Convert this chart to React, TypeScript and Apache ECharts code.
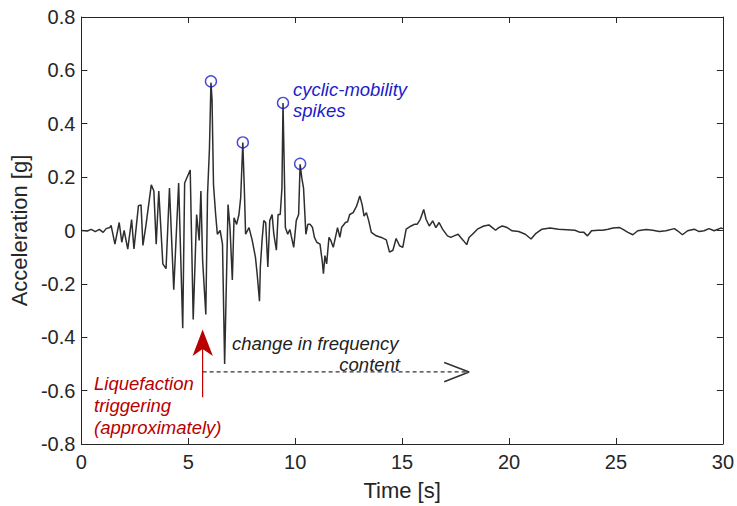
import React, { useEffect, useRef } from "react";
import * as echarts from "echarts";

// Acceleration time history [time (s), acceleration (g)]
const accelTrace: [number, number][] = [
  [0, 0], [0.28, -0.002], [0.46, 0.004], [0.65, -0.004], [0.84, 0.004], [1.02, -0.007],
  [1.16, 0.007], [1.33, 0.011], [1.39, 0.019], [1.57, -0.051], [1.77, 0.03], [1.89, -0.044],
  [2.0, 0], [2.17, -0.07], [2.35, 0.041], [2.46, -0.069], [2.67, 0.093], [2.79, 0.096],
  [2.88, -0.056], [3.02, 0.019], [3.27, 0.171], [3.39, 0.148], [3.5, -0.051], [3.62, 0.148],
  [3.81, -0.125], [3.96, -0.143], [4.12, 0.159], [4.32, -0.222], [4.55, 0.178], [4.74, -0.366],
  [4.83, 0.178], [5.09, 0.227], [5.23, -0.333], [5.39, 0.06], [5.51, -0.037], [5.59, 0.148],
  [5.67, -0.111], [5.82, -0.315], [5.9, 0.134], [5.99, 0.307], [6.06, 0.554], [6.11, 0.493],
  [6.18, 0.171], [6.28, 0.06], [6.36, -0.014], [6.49, 0], [6.6, -0.051], [6.7, -0.5],
  [6.86, 0.097], [6.95, 0.011], [7.06, -0.185], [7.14, 0.048], [7.26, 0.023], [7.37, 0.06],
  [7.45, 0.122], [7.55, 0.33], [7.62, 0.159], [7.68, -0.014], [7.84, 0.011], [7.99, -0.037],
  [8.14, -0.1], [8.22, -0.162], [8.33, -0.265], [8.37, -0.137], [8.45, -0.037], [8.53, 0.037],
  [8.62, 0.03], [8.72, -0.137], [8.81, 0.037], [8.92, 0.06], [9.0, -0.014], [9.12, -0.074],
  [9.2, 0.06], [9.3, 0.06], [9.38, 0.159], [9.43, 0.478], [9.48, 0.27], [9.54, 0.011],
  [9.65, -0.014], [9.75, 0.004], [9.93, -0.063], [10.05, 0.037], [10.16, 0.06], [10.23, 0.248],
  [10.31, 0.196], [10.39, 0.159], [10.5, -0.014], [10.59, 0.023], [10.7, 0.023], [10.81, 0.011],
  [10.9, -0.026], [11.01, -0.044], [11.16, -0.051], [11.27, -0.119], [11.32, -0.162], [11.39, -0.094],
  [11.47, -0.125], [11.58, -0.026], [11.67, -0.038], [11.78, -0.063], [11.98, 0.011], [12.09, -0.026],
  [12.17, 0.011], [12.35, 0.03], [12.45, 0.033], [12.55, 0.06], [12.71, 0.067], [12.87, 0.091],
  [13.02, 0.129], [13.13, 0.097], [13.22, 0.054], [13.33, 0.067], [13.44, 0.036], [13.56, -0.007],
  [13.79, -0.02], [14.03, -0.026], [14.26, -0.035], [14.41, -0.081], [14.57, -0.074], [14.72, -0.03],
  [14.88, -0.057], [15.03, -0.063], [15.19, 0.005], [15.42, 0.017], [15.57, 0.023], [15.7, 0.023],
  [15.85, 0.042], [16.01, 0.079], [16.12, 0.042], [16.27, 0.017], [16.43, 0.036], [16.58, 0.011],
  [16.73, 0.03], [16.89, 0.005], [17.12, -0.02], [17.28, -0.026], [17.43, -0.02], [17.62, -0.014],
  [17.74, -0.026], [17.87, -0.038], [18.02, -0.053], [18.13, -0.026], [18.29, -0.014], [18.52, 0.005],
  [18.82, 0.017], [19.06, 0.021], [19.22, 0.011], [19.37, 0.001], [19.52, 0.011], [19.68, 0.017],
  [19.91, 0.011], [20.14, -0.001], [20.45, -0.004], [20.76, -0.014], [21.03, -0.032], [21.23, -0.013],
  [21.54, 0.005], [21.92, 0.009], [22.31, 0.005], [22.7, 0.003], [23.08, 0.001], [23.32, -0.007],
  [23.5, -0.007], [23.67, -0.02], [23.86, -0.001], [24.17, 0.001], [24.38, 0.001], [24.63, 0.005],
  [24.86, 0.009], [25.17, 0.011], [25.31, 0.005], [25.56, -0.007], [25.79, -0.016], [26.02, -0.001],
  [26.41, 0.004], [26.72, 0.001], [27.03, -0.004], [27.34, -0.001], [27.73, 0.007], [27.88, -0.001],
  [28.11, -0.016], [28.35, -0.001], [28.66, 0.005], [28.89, -0.004], [29.12, -0.001], [29.35, 0.007],
  [29.59, -0.001], [29.9, 0.009], [30, 0.007],
];

// Cyclic-mobility spikes (circled peaks)
const spikePeaks: [number, number][] = [
  [6.06, 0.559], [7.55, 0.33], [9.43, 0.478], [10.23, 0.25],
];

// Axis ranges / ticks
const xRange = { min: 0, max: 30, interval: 5 };
const yRange = { min: -0.8, max: 0.8, interval: 0.2 };

// Annotation arrows (data coordinates)
const triggerShaft: [number, number][] = [[5.67, -0.625], [5.67, -0.44]];
const triggerHead: [number, number][] = [[5.67, -0.371], [5.2, -0.47], [5.67, -0.444], [6.15, -0.47]];
const freqShaft: [number, number][] = [[5.67, -0.53], [18.13, -0.53]];
const freqHead: [number, number][] = [[16.97, -0.495], [18.13, -0.53], [16.97, -0.567]];

const FONT = '"Liberation Sans", Arial, Helvetica, sans-serif';
const AX = "#262626";
const ANNOT = `italic 18.5px ${FONT}`;

export default function App() {
  const ref = useRef<HTMLDivElement>(null);

  useEffect(() => {
    if (!ref.current) return;
    const chart = echarts.init(ref.current, undefined, { renderer: "svg" });

    const baseAxisLine = { show: true, onZero: false, lineStyle: { color: AX, width: 1 } };
    const tick = { show: true, inside: true, length: 6, lineStyle: { color: AX, width: 1 } };

    chart.setOption({
      animation: false,
      backgroundColor: "#ffffff",
      grid: { left: 78, right: 13, top: 17, bottom: 57, containLabel: false },
      xAxis: [
        {
          type: "value", ...xRange, position: "bottom",
          axisLine: baseAxisLine, axisTick: tick, splitLine: { show: false },
          axisLabel: { color: AX, fontSize: 20, fontFamily: FONT, margin: 8 },
          name: "Time [s]", nameLocation: "middle", nameGap: 35,
          nameTextStyle: { color: AX, fontSize: 22, fontFamily: FONT },
        },
        {
          type: "value", ...xRange, position: "top",
          axisLine: baseAxisLine, axisTick: tick, splitLine: { show: false },
          axisLabel: { show: false },
        },
      ],
      yAxis: [
        {
          type: "value", ...yRange, position: "left",
          axisLine: baseAxisLine, axisTick: tick, splitLine: { show: false },
          axisLabel: {
            color: AX, fontSize: 20, fontFamily: FONT, margin: 6,
            formatter: (v: number) => (Math.abs(v) < 1e-9 ? "0" : v.toFixed(1)),
          },
          name: "Acceleration [g]", nameLocation: "middle", nameGap: 46,
          nameTextStyle: { color: AX, fontSize: 22, fontFamily: FONT },
        },
        {
          type: "value", ...yRange, position: "right",
          axisLine: baseAxisLine, axisTick: tick, splitLine: { show: false },
          axisLabel: { show: false },
        },
      ],
      series: [
        {
          type: "line", data: accelTrace, showSymbol: false, symbol: "none",
          lineStyle: { color: "#2e2e2e", width: 1.5 }, z: 3, silent: true,
        },
        {
          type: "scatter", data: spikePeaks, symbol: "circle", symbolSize: 11,
          itemStyle: { color: "rgba(0,0,0,0)", borderColor: "#1a1acc", borderWidth: 1.4 },
          z: 4, silent: true,
        },
        {
          type: "line", data: freqShaft, showSymbol: false, symbol: "none",
          lineStyle: { color: "#333333", width: 1.2, type: [4, 3] }, z: 4, silent: true,
        },
        {
          type: "line", data: freqHead, showSymbol: false, symbol: "none",
          lineStyle: { color: "#333333", width: 1.6 }, z: 4, silent: true,
        },
        {
          type: "line", data: triggerShaft, showSymbol: false, symbol: "none",
          lineStyle: { color: "#c00000", width: 1.2 }, z: 4, silent: true,
        },
        {
          type: "custom", data: [triggerHead[0]], silent: true, z: 5,
          renderItem: (params: any, api: any) => {
            const pts = triggerHead.map((p) => api.coord(p));
            return { type: "polygon", shape: { points: pts }, style: { fill: "#b80000" } };
          },
        },
      ],
      graphic: [
        { type: "text", x: 293, y: 89, style: { text: "cyclic-mobility", fill: "#1c1cc8", font: ANNOT, textAlign: "left", textVerticalAlign: "middle" } },
        { type: "text", x: 293, y: 110, style: { text: "spikes", fill: "#1c1cc8", font: ANNOT, textAlign: "left", textVerticalAlign: "middle" } },
        { type: "text", x: 232, y: 343, style: { text: "change in frequency", fill: "#222222", font: ANNOT, textAlign: "left", textVerticalAlign: "middle" } },
        { type: "text", x: 400, y: 364, style: { text: "content", fill: "#222222", font: ANNOT, textAlign: "right", textVerticalAlign: "middle" } },
        { type: "text", x: 94, y: 383, style: { text: "Liquefaction", fill: "#b80000", font: ANNOT, textAlign: "left", textVerticalAlign: "middle" } },
        { type: "text", x: 94, y: 405, style: { text: "triggering", fill: "#b80000", font: ANNOT, textAlign: "left", textVerticalAlign: "middle" } },
        { type: "text", x: 94, y: 427, style: { text: "(approximately)", fill: "#b80000", font: ANNOT, textAlign: "left", textVerticalAlign: "middle" } },
      ],
    });

    return () => chart.dispose();
  }, []);

  return (
    <div
      ref={ref}
      style={{ position: "fixed", left: 0, top: 0, width: 737, height: 506, background: "#fff" }}
    />
  );
}
